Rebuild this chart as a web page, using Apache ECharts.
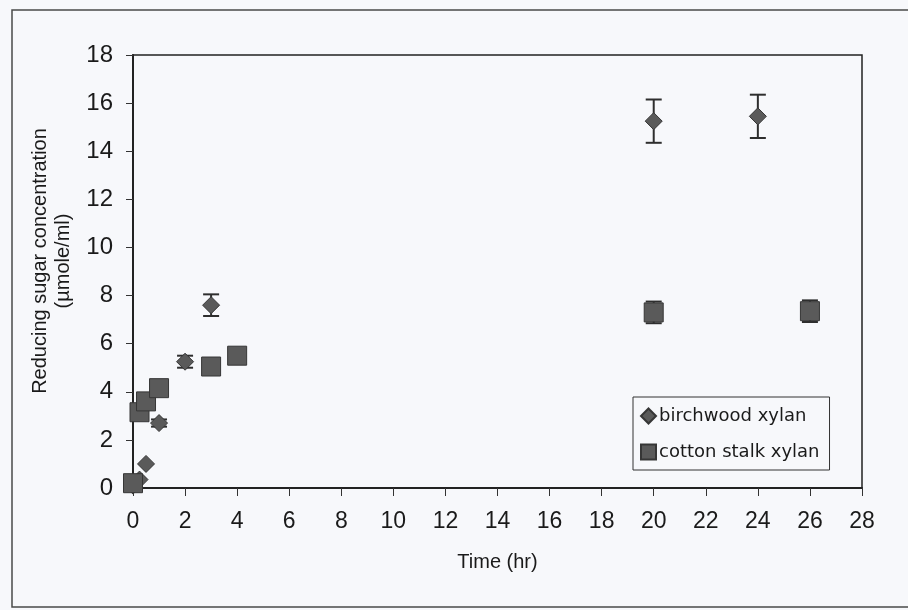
<!DOCTYPE html>
<html>
<head>
<meta charset="utf-8">
<script src="https://cdn.jsdelivr.net/npm/echarts@6/dist/echarts.min.js"></script>
<style>
  html, body { margin: 0; padding: 0; background: #f7f8fb; }
  #main { width: 908px; height: 610px; }
</style>
</head>
<body>
<div id="main"></div>
<script>
// data
var birchTime = [0, 0.25, 0.5, 1, 2, 3, 20, 24];
var birchSugar = [0.1, 0.35, 1.0, 2.7, 5.25, 7.6, 15.25, 15.45];
var birchErr = [0, 0, 0, 0.15, 0.25, 0.45, 0.9, 0.9];

var cottonTime = [0, 0.25, 0.5, 1, 3, 4, 20, 26];
var cottonSugar = [0.2, 3.15, 3.6, 4.15, 5.05, 5.5, 7.3, 7.35];
var cottonErr = [0, 0, 0, 0, 0, 0, 0.45, 0.45];

var xTicks = [0, 28, 2];
var yTicks = [0, 18, 2];

function pairs(xs, ys) {
  return xs.map(function (x, i) { return [x, ys[i]]; });
}
function errData(xs, ys, es) {
  return xs.map(function (x, i) { return [x, ys[i] - es[i], ys[i] + es[i]]; });
}

// error bar: vertical line plus two caps
function errItem(params, api) {
  var lo = api.coord([api.value(0), api.value(1)]);
  var hi = api.coord([api.value(0), api.value(2)]);
  if (Math.abs(lo[1] - hi[1]) < 1) return null;
  var w = 8;
  var st = { stroke: '#2e2e2e', lineWidth: 2 };
  return {
    type: 'group',
    children: [
      { type: 'line', shape: { x1: lo[0], y1: lo[1], x2: hi[0], y2: hi[1] }, style: st },
      { type: 'line', shape: { x1: lo[0] - w, y1: lo[1], x2: lo[0] + w, y2: lo[1] }, style: st },
      { type: 'line', shape: { x1: hi[0] - w, y1: hi[1], x2: hi[0] + w, y2: hi[1] }, style: st }
    ]
  };
}

var txt = '#1a1a1a';
var myChart = echarts.init(document.getElementById('main'));
var option = {
  backgroundColor: '#f7f8fb',
  animation: false,
  graphic: [
    {
      type: 'rect',
      shape: { x: 12, y: 10, width: 910, height: 597 },
      style: { fill: 'none', stroke: '#4a4a4a', lineWidth: 1.5 },
      silent: true
    },
    //y axis title, two lines
    {
      type: 'text', x: 40, y: 261, rotation: Math.PI / 2,
      style: { text: 'Reducing sugar concentration', fontFamily: 'Liberation Sans', fontSize: 20,
        fill: txt, align: 'center', verticalAlign: 'middle' }
    },
    {
      type: 'text', x: 63, y: 261, rotation: Math.PI / 2,
      style: { text: '(µmole/ml)', fontFamily: 'Liberation Sans', fontSize: 20,
        fill: txt, align: 'center', verticalAlign: 'middle' }
    }
  ],
  grid: {
    left: 133, top: 55, right: 46, bottom: 122,
    show: true, borderColor: '#222', borderWidth: 1.5, backgroundColor: 'transparent'
  },
  legend: {
    left: 633, top: 397,
    orient: 'vertical',
    itemWidth: 15, itemHeight: 15, itemGap: 18,
    padding: [10, 10, 9, 7],
    borderColor: '#333', borderWidth: 1, backgroundColor: '#f7f8fb',
    textStyle: { fontFamily: 'DejaVu Sans', fontSize: 18, color: txt, padding: [0, 0, 0, -2] },
    data: [
      { name: 'birchwood xylan', icon: 'diamond' },
      { name: 'cotton stalk xylan', icon: 'rect' }
    ]
  },
  xAxis: {
    type: 'value',
    min: xTicks[0], max: xTicks[1], interval: xTicks[2],
    name: 'Time (hr)', nameLocation: 'middle', nameGap: 64,
    nameTextStyle: { fontFamily: 'Liberation Sans', fontSize: 20, color: txt },
    axisLine: { lineStyle: { color: '#222', width: 2 } },
    axisTick: { inside: false, length: 8, lineStyle: { color: '#333', width: 1 } },
    axisLabel: { fontFamily: 'Liberation Sans', fontSize: 23, color: txt, margin: 22 },
    splitLine: { show: false }
  },
  yAxis: {
    type: 'value',
    min: yTicks[0], max: yTicks[1], interval: yTicks[2],
    axisLine: { lineStyle: { color: '#222', width: 2 } },
    axisTick: { inside: false, length: 7, lineStyle: { color: '#333', width: 1 } },
    axisLabel: { fontFamily: 'Liberation Sans', fontSize: 24, color: txt, margin: 20 },
    splitLine: { show: false }
  },
  series: [
    {
      type: 'custom', name: 'birchErr', renderItem: errItem, clip: false, z: 1,
      encode: { x: 0, y: [1, 2] },
      data: errData(birchTime, birchSugar, birchErr)
    },
    {
      type: 'custom', name: 'cottonErr', renderItem: errItem, clip: false, z: 1,
      encode: { x: 0, y: [1, 2] },
      data: errData(cottonTime, cottonSugar, cottonErr)
    },
    {
      name: 'birchwood xylan', type: 'scatter', symbol: 'diamond', symbolSize: 17,
      clip: false, z: 3,
      itemStyle: { color: '#5a5a5a', borderColor: '#363636', borderWidth: 1, opacity: 1 },
      data: pairs(birchTime, birchSugar)
    },
    {
      name: 'cotton stalk xylan', type: 'scatter', symbol: 'rect', symbolSize: 19,
      clip: false, z: 4,
      itemStyle: { color: '#5a5a5a', borderColor: '#363636', borderWidth: 1, opacity: 1 },
      data: pairs(cottonTime, cottonSugar)
    }
  ]
};
myChart.setOption(option);
</script>
</body>
</html>
